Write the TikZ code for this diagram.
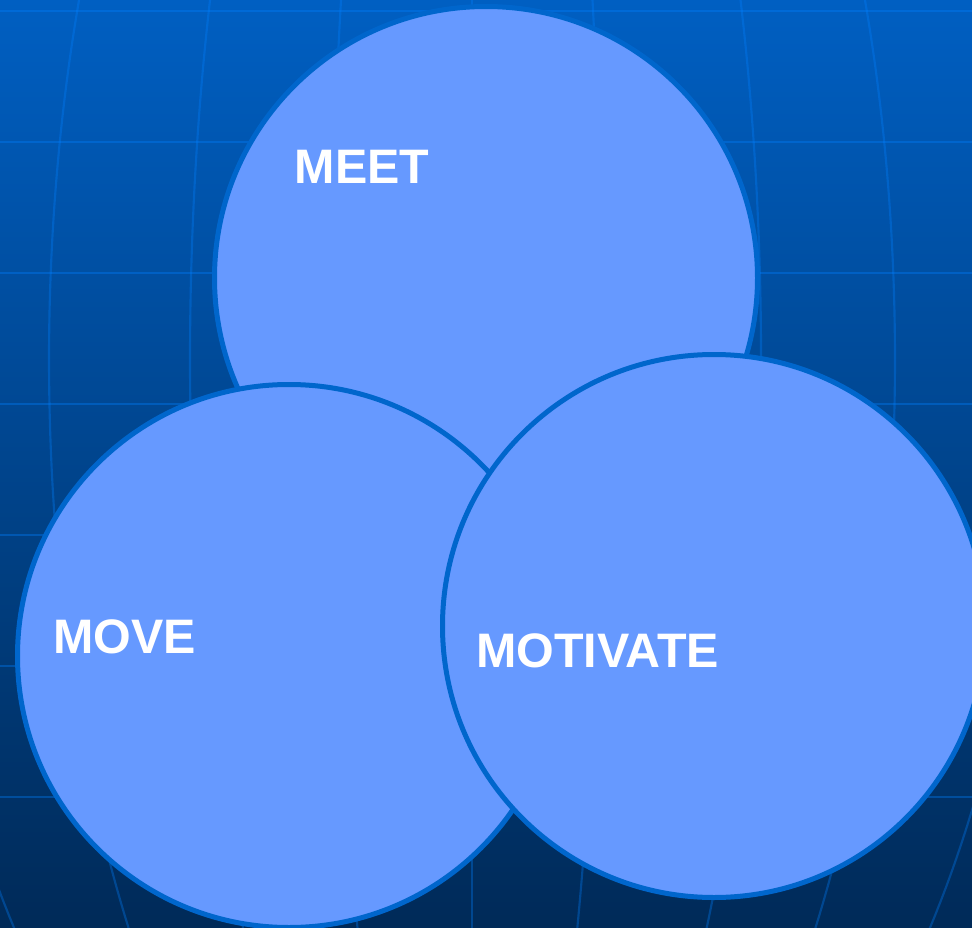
\documentclass[tikz,border=0pt]{standalone}
\usepackage{fontspec}
\setmainfont{Liberation Sans}
\definecolor{bgtop}{HTML}{005FC2}
\definecolor{bgmid}{HTML}{00468F}
\definecolor{bgbot}{HTML}{002A58}
\definecolor{gridtint}{HTML}{0080FF}
\definecolor{ringblue}{HTML}{0066CC}
\definecolor{bubblefill}{HTML}{6699FF}
\begin{document}
\begin{tikzpicture}[x=0.75pt,y=-0.75pt,
  bubble/.style={circle, draw=ringblue, fill=bubblefill, line width=3.75pt,
    minimum size=407.25pt, inner sep=0pt},
  caption/.style={anchor=base west, inner sep=0pt, text=white,
    font=\fontsize{36.3}{40}\selectfont\bfseries},
  latitude/.style={draw=gridtint, draw opacity=0.36, line width=1.9pt},
  meridian/.style={draw=gridtint, draw opacity=0.33, line width=1.6pt}]
\useasboundingbox (0,0) rectangle (972,928);
\begin{scope}
  \clip (0,0) rectangle (972,928);
  % backdrop with a globe-like grid
  \shade[top color=bgtop, middle color=bgmid, bottom color=bgbot]
    (0,0) rectangle (972,928);
  \foreach \y in {11,142,...,797}
    \draw[latitude] (0,\y) -- (972,\y);
  \foreach \k in {-4,-3,-2,-1,0,0.92,2.05,3,4}
    \draw[meridian] plot[domain=-24:38, samples=60, variable=\t]
      ({472+\k*141*cos(\t)}, {360+973*sin(\t)});
  % the three overlapping circles
  \node[bubble] (meet) at (486,278) {};
  \node[bubble] (move) at (289,656) {};
  \node[bubble] (motivate) at (714,626) {};
\end{scope}
\node[caption] (meettext) at (294.5,183) {MEET};
\node[caption] (movetext) at (53,653) {MOVE};
\node[caption] (motivatetext) at (476,667) {MOTIVATE};
\end{tikzpicture}
\end{document}
